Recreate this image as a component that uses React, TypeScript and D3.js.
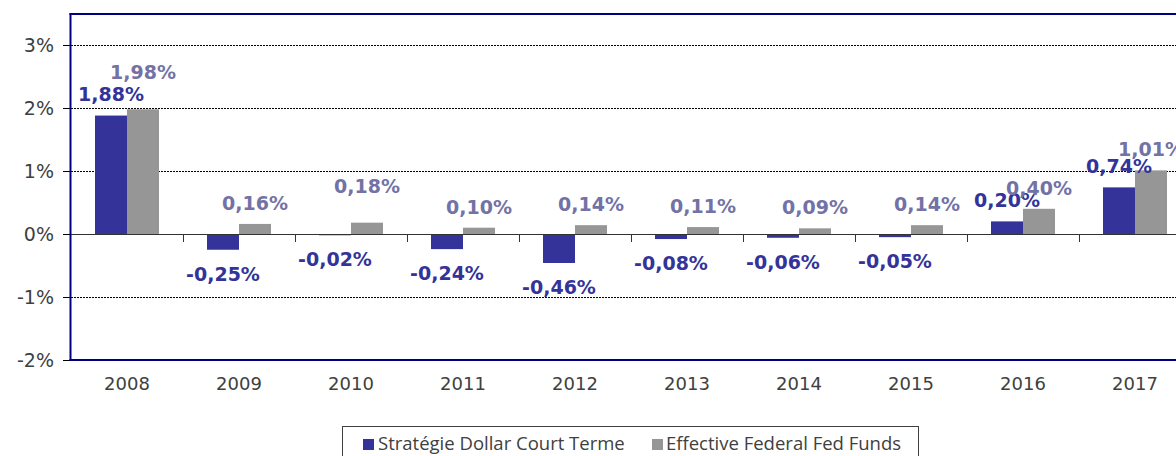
import React from "react";
import * as d3 from "d3";

const years = ["2008", "2009", "2010", "2011", "2012", "2013", "2014", "2015", "2016", "2017"];
const strategie = [1.88, -0.25, -0.02, -0.24, -0.46, -0.08, -0.06, -0.05, 0.2, 0.74];
const fedFunds = [1.98, 0.16, 0.18, 0.1, 0.14, 0.11, 0.09, 0.14, 0.4, 1.01];
const yTicks = [-2, -1, 0, 1, 2, 3];
const seriesNames = ["Stratégie Dollar Court Terme", "Effective Federal Fed Funds"];

const W = 1176;
const H = 456;
const BLUE = "#333399";
const GRAY = "#969696";
const GRAY_LABEL = "#7272a6";
const FRAME = "#000080";

const fmt = (v: number) => v.toFixed(2).replace(".", ",") + "%";

export default function App() {
  const left = 71;
  const top = 14;
  const bottom = 360;
  const x = d3.scaleBand<string>().domain(years).range([left, left + 1120]);
  const y = d3.scaleLinear().domain([-2, 3.5]).range([bottom, top - 0.5]);
  const barW = 32;
  const y0 = y(0);

  const nudge = (s: number, i: number) => {
    if (s === 1 && (i === 0 || i === 2)) return -16;
    return 0;
  };

  const labels: React.ReactNode[] = [];
  const bars: React.ReactNode[] = [];
  [strategie, fedFunds].forEach((arr, s) => {
    arr.forEach((v, i) => {
      const bx = (x(years[i]) as number) + x.bandwidth() / 2 - barW + s * barW;
      const yv = y(v);
      bars.push(
        <rect
          key={`b${s}-${i}`}
          x={bx}
          y={Math.min(yv, y0)}
          width={barW}
          height={Math.abs(yv - y0)}
          fill={s === 0 ? BLUE : GRAY}
        />
      );
      const cy = v >= 0 ? yv - 21 + nudge(s, i) : yv + 24;
      labels.push(
        <text
          key={`l${s}-${i}`}
          x={bx + barW / 2}
          y={cy}
          dy="0.36em"
          textAnchor="middle"
          fontFamily="'DejaVu Sans', Verdana, sans-serif"
          fontWeight="bold"
          fontSize={19}
          fill={s === 0 ? BLUE : GRAY_LABEL}
        >
          {fmt(v)}
        </text>
      );
    });
  });

  return (
    <svg
      width={W}
      height={H}
      style={{ position: "absolute", left: 0, top: 0, background: "#fff" }}
    >
      <rect x={0} y={0} width={W} height={H} fill="#fff" />
      {yTicks
        .filter((t) => t !== 0 && t !== -2)
        .map((t) => (
          <line
            key={`g${t}`}
            x1={left}
            x2={W}
            y1={Math.round(y(t)) + 0.5}
            y2={Math.round(y(t)) + 0.5}
            stroke="#000"
            strokeWidth={1}
            strokeDasharray="2,1"
          />
        ))}
      {bars}
      <line x1={63} x2={W} y1={Math.round(y0) + 0.5} y2={Math.round(y0) + 0.5} stroke="#333" strokeWidth={1} />
      {years.slice(1).map((yr) => (
        <line
          key={`xt${yr}`}
          x1={Math.round(x(yr) as number) + 0.5}
          x2={Math.round(x(yr) as number) + 0.5}
          y1={Math.round(y0)}
          y2={Math.round(y0) + 8}
          stroke="#333"
          strokeWidth={1}
        />
      ))}
      {yTicks.map((t) => (
        <g key={`yt${t}`}>
          <line x1={63} x2={left} y1={Math.round(y(t)) + 0.5} y2={Math.round(y(t)) + 0.5} stroke="#000" />
          <text
            x={54}
            y={y(t)}
            dy="0.36em"
            textAnchor="end"
            fontFamily="'DejaVu Sans', Verdana, sans-serif"
            fontSize={19}
            fill="#404040"
          >
            {`${t}%`}
          </text>
        </g>
      ))}
      <line x1={left - 0.5} x2={left - 0.5} y1={top - 1} y2={bottom + 1} stroke={FRAME} strokeWidth={2} />
      <line x1={left - 1.5} x2={W} y1={top} y2={top} stroke={FRAME} strokeWidth={2} />
      <line x1={left - 1.5} x2={W} y1={bottom} y2={bottom} stroke={FRAME} strokeWidth={2} />
      {years.map((yr) => (
        <text
          key={`xl${yr}`}
          x={(x(yr) as number) + x.bandwidth() / 2}
          y={390}
          textAnchor="middle"
          fontFamily="'DejaVu Sans', Verdana, sans-serif"
          fontSize={18}
          fill="#404040"
        >
          {yr}
        </text>
      ))}
      {labels}
      <rect x={342.5} y={426.5} width={576} height={40} fill="#fff" stroke="#404040" strokeWidth={1} />
      <rect x={363} y={439} width={11} height={11} fill={BLUE} />
      <text x={378} y={450} fontFamily="'Open Sans', sans-serif" fontSize={18.5} fill="#404040">
        {seriesNames[0]}
      </text>
      <rect x={652} y={439} width={11} height={11} fill={GRAY} />
      <text x={666} y={450} fontFamily="'Open Sans', sans-serif" fontSize={18.5} fill="#404040">
        {seriesNames[1]}
      </text>
    </svg>
  );
}
